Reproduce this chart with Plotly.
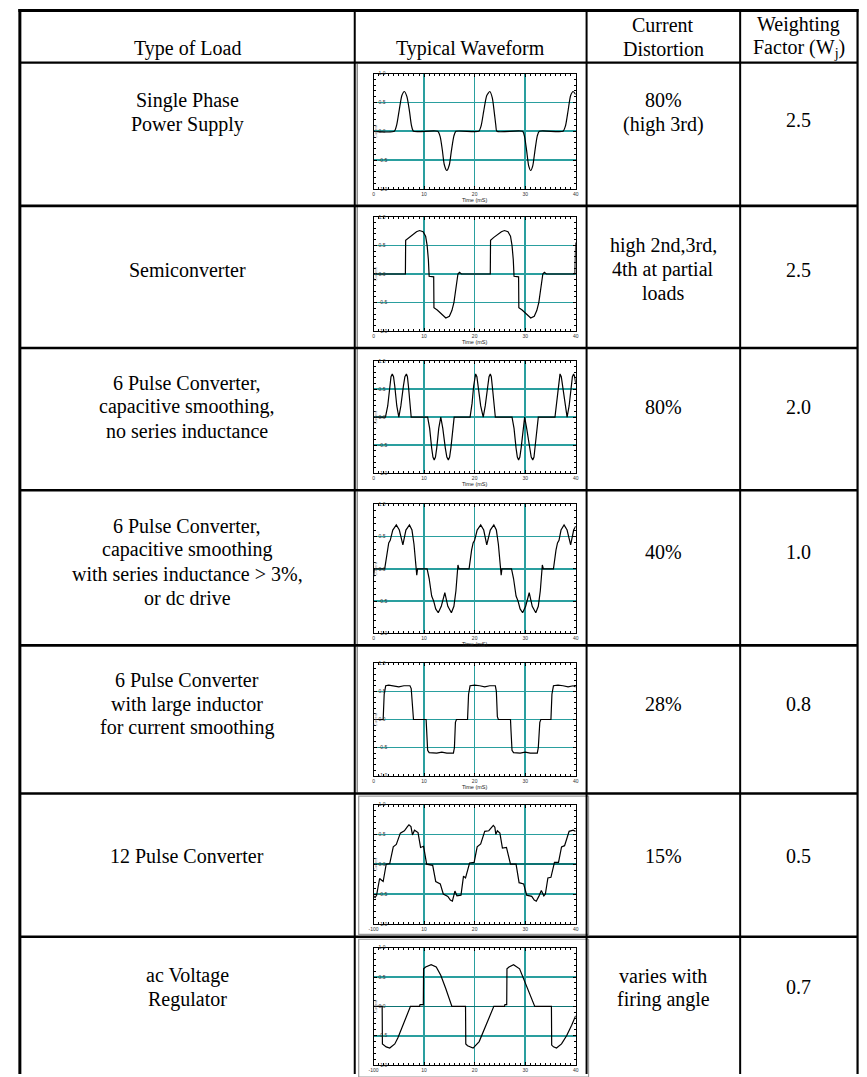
import plotly.graph_objects as go

W, H = 867, 1077

# ---------------- table text ----------------
header_load = ["Type of Load"]
header_wave = ["Typical Waveform"]
header_dist = ["Current", "Distortion"]
header_wf = ["Weighting", "Factor (W<sub>j</sub>)"]

load_types = [
    ["Single Phase", "Power Supply"],
    ["Semiconverter"],
    ["6 Pulse Converter,", "capacitive smoothing,", "no series inductance"],
    ["6 Pulse Converter,", "capacitive smoothing", "with series inductance > 3%,", "or dc drive"],
    ["6 Pulse Converter", "with large inductor", "for current smoothing"],
    ["12 Pulse Converter"],
    ["ac Voltage", "Regulator"],
]
distortion = [
    ["80%", "(high 3rd)"],
    ["high 2nd,3rd,", "4th at partial", "loads"],
    ["80%"],
    ["40%"],
    ["28%"],
    ["15%"],
    ["varies with", "firing angle"],
]
weighting = [2.5, 2.5, 2.0, 1.0, 0.8, 0.5, 0.7]

# ---------------- waveforms (time in ms, current in p.u.) ----------------
t_single = [0, 4.1, 4.6, 5.1, 5.6, 6.1, 6.6, 7.1, 7.5, 7.9,
            12.7, 13.2, 13.6, 14.0, 14.5, 15.0, 15.4, 15.9, 16.3,
            20.8, 21.3, 21.8, 22.4, 23.0, 23.5, 23.9, 24.2, 24.4,
            29.5, 29.9, 30.3, 30.7, 31.1, 31.5, 31.9, 32.4, 32.8,
            37.5, 38.0, 38.5, 39.0, 39.5, 40.0]
i_single = [0, 0, 0.12, 0.38, 0.62, 0.69, 0.60, 0.35, 0.10, 0,
            0, -0.10, -0.32, -0.58, -0.68, -0.58, -0.34, -0.08, 0,
            0, 0.10, 0.35, 0.62, 0.69, 0.58, 0.32, 0.10, 0,
            0, -0.10, -0.34, -0.60, -0.68, -0.60, -0.36, -0.08, 0,
            0, 0.10, 0.36, 0.62, 0.69, 0.64]

t_semi = [0, 6.3, 6.35, 7.0, 7.8, 8.5, 9.1, 9.8, 10.3, 10.6, 10.85, 11.0, 11.9, 11.95,
          12.6, 13.4, 14.3, 15.0, 15.5, 15.9, 16.3, 16.7, 17.0, 17.4,
          23.1, 23.15, 23.8, 24.6, 25.3, 25.9, 26.6, 27.1, 27.4, 27.65, 27.8, 28.7, 28.75,
          29.4, 30.2, 31.1, 31.8, 32.3, 32.7, 33.1, 33.5, 33.8, 34.2, 39.85, 39.95, 40.0]
i_semi = [0, 0, 0.59, 0.64, 0.70, 0.74, 0.76, 0.74, 0.66, 0.50, 0.25, -0.04, -0.05, -0.59,
          -0.63, -0.70, -0.77, -0.74, -0.64, -0.50, -0.25, 0, 0.03, 0,
          0, 0.59, 0.64, 0.70, 0.74, 0.76, 0.74, 0.66, 0.50, 0.25, -0.04, -0.05, -0.59,
          -0.63, -0.70, -0.77, -0.74, -0.64, -0.50, -0.25, 0, 0.03, 0, 0, 0.30, 0.55]

t_6p_cap = [0, 2.35, 2.8, 3.2, 3.45, 3.7, 3.95, 4.2, 4.6, 5.0, 5.4, 5.9, 6.2, 6.5, 6.7, 6.9, 7.2, 7.45,
            10.7, 11.1, 11.5, 11.75, 12.0, 12.25, 12.5, 12.9, 13.3, 13.7, 14.2, 14.5, 14.8, 15.05, 15.3, 15.7, 15.95,
            19.1, 19.5, 19.8, 20.0, 20.2, 20.45, 20.7, 21.2, 21.7, 22.1, 22.6, 22.85, 23.1, 23.3, 23.5, 23.8, 24.1,
            27.4, 27.8, 28.2, 28.45, 28.7, 28.95, 29.2, 29.6, 29.9, 30.3, 30.9, 31.2, 31.5, 31.75, 32.0, 32.3, 32.6,
            35.9, 36.2, 36.5, 36.7, 36.9, 37.15, 37.4, 37.9, 38.3, 38.7, 39.1, 39.35, 39.6, 39.8, 40.0]
i_6p_cap = [0, 0, 0.20, 0.55, 0.72, 0.77, 0.72, 0.55, 0.20, 0, 0.20, 0.55, 0.72, 0.77, 0.72, 0.55, 0.20, 0,
            0, -0.20, -0.55, -0.71, -0.76, -0.71, -0.55, -0.20, 0, -0.20, -0.55, -0.71, -0.76, -0.71, -0.55, -0.20, 0,
            0, 0.25, 0.55, 0.72, 0.77, 0.72, 0.55, 0.20, 0, 0.20, 0.55, 0.72, 0.77, 0.72, 0.55, 0.20, 0,
            0, -0.20, -0.55, -0.71, -0.76, -0.71, -0.55, -0.20, 0, -0.20, -0.55, -0.71, -0.76, -0.71, -0.50, -0.20, 0,
            0, 0.25, 0.55, 0.72, 0.77, 0.72, 0.55, 0.20, 0, 0.20, 0.55, 0.72, 0.77, 0.72, 0.60]

t_6p_ind = [0, 0.15, 2.2, 2.7, 3.0, 3.3, 3.8, 4.5, 5.1, 5.8, 6.4, 7.1, 7.6, 8.0, 8.3, 8.5, 8.55, 8.7,
            10.6, 11.0, 11.3, 11.5, 11.9, 12.3, 12.8, 13.4, 14.1, 14.7, 15.4, 15.9, 16.3, 16.6, 16.7, 16.9,
            18.9, 19.4, 19.7, 20.0, 20.5, 21.2, 21.8, 22.4, 23.1, 23.8, 24.3, 24.7, 25.0, 25.2, 25.25, 25.4,
            27.3, 27.7, 28.0, 28.2, 28.6, 29.0, 29.5, 30.1, 30.8, 31.4, 32.1, 32.6, 33.0, 33.3, 33.4, 33.6,
            35.6, 36.1, 36.4, 36.7, 37.1, 37.7, 38.3, 39.0, 39.6, 40.0]
i_6p_ind = [-0.12, 0, 0, 0.29, 0.40, 0.44, 0.60, 0.68, 0.60, 0.37, 0.60, 0.68, 0.60, 0.38, 0.10, 0, -0.10, 0,
            0, -0.15, -0.38, -0.42, -0.50, -0.62, -0.68, -0.58, -0.37, -0.58, -0.68, -0.58, -0.34, -0.10, 0.06, 0,
            0, 0.29, 0.40, 0.44, 0.60, 0.68, 0.60, 0.37, 0.60, 0.68, 0.60, 0.38, 0.10, 0, -0.10, 0,
            0, -0.15, -0.38, -0.42, -0.50, -0.62, -0.68, -0.58, -0.37, -0.58, -0.68, -0.58, -0.34, -0.10, 0.06, 0,
            0, 0.29, 0.40, 0.44, 0.60, 0.68, 0.60, 0.37, 0.60, 0.66]

t_6p_large = [0, 1.9, 2.1, 2.4, 3.0, 4.0, 5.0, 6.0, 7.2, 7.45, 7.7, 7.9,
              10.4, 10.5, 10.7, 11.0, 12.5, 13.5, 14.5, 15.8, 16.0, 16.2, 16.4,
              18.6, 18.8, 19.1, 20.0, 21.0, 22.0, 23.0, 24.1, 24.3, 24.5, 24.7,
              27.1, 27.2, 27.4, 27.7, 29.0, 30.0, 31.0, 32.4, 32.6, 32.9, 33.1,
              35.1, 35.3, 35.6, 36.5, 37.5, 38.5, 39.5, 40.0]
i_6p_large = [0, 0, 0.45, 0.60, 0.61, 0.60, 0.58, 0.60, 0.60, 0.55, 0.10, 0,
              0, -0.20, -0.55, -0.59, -0.60, -0.58, -0.60, -0.60, -0.50, -0.05, 0,
              0, 0.45, 0.60, 0.61, 0.60, 0.58, 0.60, 0.60, 0.50, 0.05, 0,
              0, -0.20, -0.55, -0.59, -0.60, -0.58, -0.60, -0.60, -0.50, -0.05, 0,
              0, 0.45, 0.60, 0.61, 0.60, 0.58, 0.60, 0.58]

t_12p = [0, 0.3, 0.6, 1.2, 1.6, 1.9, 2.5, 3.2, 3.9, 4.5, 5.3, 6.1, 6.7, 7.0, 7.4, 7.7, 8.1, 8.8,
         9.3, 9.9, 10.5, 11.7, 12.3, 13.2, 13.8, 14.7, 15.2, 15.6, 16.1, 16.5, 17.3, 17.8, 18.2,
         19.0, 19.9, 20.5, 21.2, 22.0, 22.8, 23.3, 23.7, 24.0, 24.2, 24.5, 25.0, 25.5, 26.3, 27.1,
         28.2, 28.8, 29.7, 30.3, 31.3, 31.8, 32.2, 32.7, 33.2, 33.7, 34.0, 34.5, 35.1, 35.8, 36.6,
         37.2, 37.8, 38.7, 39.5, 40.0]
i_12p = [-0.53, -0.56, -0.52, -0.24, -0.27, -0.29, 0.0, 0.01, 0.29, 0.33, 0.52, 0.56, 0.63, 0.66, 0.63, 0.49, 0.57, 0.53,
         0.28, 0.30, 0.0, -0.02, -0.29, -0.33, -0.50, -0.54, -0.60, -0.62, -0.45, -0.53, -0.52, -0.20, -0.23,
         0.02, 0.03, 0.29, 0.34, 0.55, 0.56, 0.62, 0.65, 0.62, 0.50, 0.56, 0.52, 0.27, 0.28, 0.0,
         0.0, -0.31, -0.33, -0.52, -0.54, -0.60, -0.62, -0.54, -0.44, -0.53, -0.50, -0.23, -0.22, 0.03, 0.03,
         0.29, 0.31, 0.55, 0.57, 0.55]

t_acvr = [0, 1.7, 1.75, 2.0, 2.5, 3.2, 4.2, 4.8, 5.8, 6.5, 7.3,
          9.1, 9.2, 9.85, 9.9, 10.3, 11.4, 12.4, 13.3, 14.3, 15.2, 15.5,
          18.2, 18.25, 18.6, 19.7, 20.9, 21.8, 22.8, 23.8,
          25.9, 26.0, 26.35, 26.4, 26.8, 27.7, 28.9, 29.7, 30.7, 31.6, 31.9,
          35.2, 35.25, 35.6, 36.2, 37.2, 38.2, 39.2, 40.0]
i_acvr = [0, 0, -0.64, -0.66, -0.69, -0.71, -0.64, -0.54, -0.32, -0.18, 0,
          0, 0.03, 0.03, 0.64, 0.67, 0.71, 0.67, 0.53, 0.30, 0.07, 0,
          0, -0.64, -0.67, -0.71, -0.60, -0.41, -0.21, 0,
          0, 0.03, 0.03, 0.64, 0.67, 0.71, 0.64, 0.47, 0.25, 0.07, 0,
          0, -0.66, -0.69, -0.71, -0.64, -0.50, -0.32, -0.16]

waves = [(t_single, i_single), (t_semi, i_semi), (t_6p_cap, i_6p_cap), (t_6p_ind, i_6p_ind),
         (t_6p_large, i_6p_large), (t_12p, i_12p), (t_acvr, i_acvr)]
smooth_rows = {0}

x_ticks = [0, 10, 20, 30, 40]
y_ticks = [-1.0, -0.5, 0.0, 0.5, 1.0]

# ---------------- geometry (pixels) ----------------
row_lines = [60, 204, 347, 490, 646, 795, 939]
col_lines = [353, 587, 742]
LEFT, TOP, RIGHT = 15, 7.5, 860.5
plot_boxes = [(71, 187), (215, 330), (360, 473), (504, 634), (664, 777), (806, 926), (950, 1068)]
PLOT_L, PLOT_R = 372, 576
col_centers = [184, 470, 664.5, 801]
line_gap = 24
load_centers = [110, 268, 406, 562, 705, 858, 990]
other_centers = [110, 268, 406, 552, 705, 858, 990]
wf_centers = [118, 268, 406, 552, 705, 858, 990]

TEAL = "#2a9f9f"
TEAL_DARK = "#0d7373"
SERIF = "Liberation Serif, Times New Roman, Times, serif"
SANS = "Liberation Sans, Arial, sans-serif"


def fx(x):
    return x / W


def fy(y):
    return 1 - y / H


fig = go.Figure()
shapes = []
annotations = []


def hline(y, x0, x1, w, color="black"):
    shapes.append(dict(type="line", xref="paper", yref="paper", x0=fx(x0), x1=fx(x1),
                       y0=fy(y), y1=fy(y), line=dict(color=color, width=w)))


def vline(x, y0, y1, w, color="black"):
    shapes.append(dict(type="line", xref="paper", yref="paper", x0=fx(x), x1=fx(x),
                       y0=fy(y0), y1=fy(y1), line=dict(color=color, width=w)))


def text_block(lines, xc, yc, size=20):
    n = len(lines)
    for k, s in enumerate(lines):
        y = yc + (k - (n - 1) / 2) * line_gap
        annotations.append(dict(text=s, x=fx(xc), y=fy(y), xref="paper", yref="paper",
                                showarrow=False, xanchor="center", yanchor="middle",
                                font=dict(family=SERIF, size=size, color="black")))


# picture frames inside the waveform column
for r in range(5):
    vline(355.5, row_lines[r] + 1, row_lines[r + 1] - 1, 1.5, "#8a8a8a")
for (y0, y1) in [(797.5, 936.5), (941.5, 1080)]:
    shapes.append(dict(type="rect", xref="paper", yref="paper", x0=fx(357), x1=fx(589),
                       y0=fy(y1), y1=fy(y0), line=dict(color="#9a9a9a", width=1.2)))

# table rules
hline(TOP, LEFT - 1.5, RIGHT + 1, 3)
hline(row_lines[0], LEFT, RIGHT, 2.3)
for y in row_lines[1:]:
    hline(y, LEFT, RIGHT, 2.6)
vline(LEFT, TOP - 1.5, H, 3)
vline(RIGHT, TOP - 1.5, H, 2.2)
for x in col_lines:
    vline(x, TOP, H, 2)

# header text
text_block(header_load, col_centers[0], 46)
text_block(header_wave, col_centers[1], 46)
text_block(header_dist, col_centers[2], 34)
text_block(header_wf, col_centers[3], 34)

for r in range(7):
    text_block(load_types[r], col_centers[0], load_centers[r])
    text_block(distortion[r], col_centers[2], other_centers[r])
    text_block([f"{weighting[r]:.1f}"], col_centers[3], wf_centers[r])

# waveform panels
layout_axes = {}
for k, ((t, cur), (top, bot)) in enumerate(zip(waves, plot_boxes)):
    n = "" if k == 0 else str(k + 1)
    line = dict(color="black", width=1.2)
    if k in smooth_rows:
        line.update(shape="spline", smoothing=0.6)
    fig.add_trace(go.Scatter(x=t, y=cur, mode="lines", line=line,
                             xaxis="x" + n, yaxis="y" + n, showlegend=False, hoverinfo="skip"))
    xt = ["-100" if (k >= 5 and v == 0) else str(v) for v in x_ticks]
    xaxis = dict(
        domain=[fx(PLOT_L), fx(PLOT_R)], range=[0, 40], anchor="y" + n,
        showline=True, linecolor="black", linewidth=1, mirror="allticks",
        ticks="inside", ticklen=3, tickwidth=1, tickcolor="black",
        tickvals=x_ticks, ticktext=xt,
        tickfont=dict(family=SANS, size=5, color="#333"),
        showgrid=True, gridcolor=TEAL, gridwidth=1.6, zeroline=False,
        minor=dict(ticks="inside", ticklen=2, dtick=1, tickcolor="black", showgrid=False),
        fixedrange=True,
    )
    if k < 5:
        xaxis["title"] = dict(text="Time (mS)", standoff=0,
                              font=dict(family=SANS, size=5.5, color="#222"))
    layout_axes["xaxis" + n] = xaxis
    layout_axes["yaxis" + n] = dict(
        domain=[fy(bot), fy(top)], range=[-1, 1], anchor="x" + n,
        showline=True, linecolor="black", linewidth=1, mirror="allticks",
        ticks="inside", ticklen=3, tickwidth=1, tickcolor="black",
        tickvals=y_ticks, ticktext=[f"{v:.1f}" for v in y_ticks],
        ticklabelposition="inside", ticklabeloverflow="allow",
        tickfont=dict(family=SANS, size=5, color="#333"),
        showgrid=True, gridcolor=TEAL, gridwidth=1.6,
        zeroline=True, zerolinecolor=TEAL_DARK if k >= 5 else TEAL, zerolinewidth=1.6,
        minor=dict(ticks="inside", ticklen=2, dtick=0.1, tickcolor="black", showgrid=False),
        title=dict(text="Current", standoff=1,
                   font=dict(family=SANS, size=4, color="#777")),
        fixedrange=True,
    )

fig.update_layout(
    width=W, height=H, margin=dict(l=0, r=0, t=0, b=0),
    paper_bgcolor="white", plot_bgcolor="white",
    shapes=shapes, annotations=annotations, showlegend=False,
    **layout_axes,
)

fig.write_html("out.html", config={"displayModeBar": False, "staticPlot": True})
